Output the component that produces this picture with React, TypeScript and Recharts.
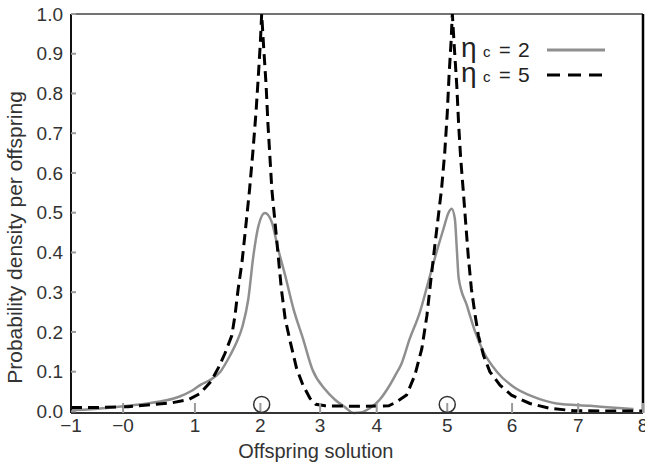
import React from 'react';
import { LineChart, Line, XAxis, YAxis, ReferenceLine, ReferenceDot, Legend } from 'recharts';

// eta_c values of the two series
const etaValues = [2, 5];

// eta_c = 2 (solid grey)
const solidX = [-1, -0.75, -0.5, -0.25, 0, 0.25, 0.5, 0.7, 0.9, 1.05, 1.2, 1.35, 1.5, 1.6, 1.7, 1.79, 1.87, 1.95, 2.05, 2.16, 2.26, 2.37, 2.5, 2.65, 2.8, 3.0, 3.15, 3.3, 3.45, 3.55, 3.7, 3.86, 4.0, 4.1, 4.2, 4.33, 4.49, 4.62, 4.75, 4.86, 4.94, 4.99, 5.04, 5.07, 5.1, 5.23, 5.36, 5.49, 5.7, 5.96, 6.27, 6.64, 7.17, 7.5, 7.85];
const solidY = [0.003, 0.005, 0.008, 0.012, 0.016, 0.021, 0.028, 0.037, 0.052, 0.068, 0.08, 0.1, 0.14, 0.172, 0.215, 0.283, 0.392, 0.467, 0.499, 0.476, 0.408, 0.342, 0.258, 0.183, 0.105, 0.055, 0.03, 0.012, -0.004, -0.003, 0.008, 0.03, 0.062, 0.09, 0.12, 0.183, 0.25, 0.325, 0.4, 0.459, 0.5, 0.51, 0.484, 0.41, 0.335, 0.266, 0.2, 0.15, 0.1, 0.062, 0.037, 0.02, 0.014, 0.01, 0.006];

// eta_c = 5 (dashed black)
const dashX = [-1, -0.5, -0.1, 0.25, 0.6, 0.85, 1.03, 1.2, 1.32, 1.42, 1.53, 1.58, 1.63, 1.69, 1.74, 1.81, 1.86, 1.91, 1.95, 1.98, 2.0, 2.03, 2.07, 2.1, 2.13, 2.16, 2.21, 2.26, 2.31, 2.37, 2.45, 2.55, 2.65, 2.76, 2.85, 3.0, 3.5, 4.0, 4.12, 4.28, 4.41, 4.52, 4.6, 4.67, 4.73, 4.78, 4.83, 4.88, 4.92, 4.95, 4.98, 5.0, 5.03, 5.07, 5.1, 5.13, 5.17, 5.21, 5.25, 5.3, 5.36, 5.41, 5.49, 5.59, 5.75, 5.93, 6.22, 6.54, 6.9, 7.5, 8.0];
const dashY = [0.01, 0.01, 0.012, 0.017, 0.022, 0.03, 0.045, 0.075, 0.11, 0.145, 0.191, 0.241, 0.308, 0.375, 0.45, 0.559, 0.65, 0.75, 0.85, 0.93, 1.0, 0.92, 0.82, 0.72, 0.64, 0.559, 0.476, 0.392, 0.308, 0.233, 0.175, 0.108, 0.066, 0.033, 0.018, 0.014, 0.013, 0.014, 0.024, 0.041, 0.091, 0.158, 0.241, 0.342, 0.425, 0.492, 0.559, 0.65, 0.75, 0.85, 0.93, 1.0, 0.92, 0.82, 0.72, 0.64, 0.559, 0.475, 0.392, 0.308, 0.241, 0.191, 0.141, 0.1, 0.066, 0.041, 0.02, 0.0075, 0.002, 0.001, 0.001];

// axis ticks (as placed in the reference figure)
const xTickValues = [-1, -0.18, 0.95, 1.98, 2.92, 3.81, 4.92, 5.94, 6.98, 8];
const xTickLabels = ['\u22121', '\u22120', '1', '2', '3', '4', '5', '6', '7', '8'];
const yTickValues = [0, 0.1, 0.2, 0.3, 0.4, 0.5, 0.6, 0.7, 0.8, 0.9, 1.0];

// parent solutions marked with circles on the axis
const parentX = [2.0, 4.92];
const parentY = 0.0175;

const solidData = solidX.map((x, i) => ({ x, y: solidY[i] }));
const dashData = dashX.map((x, i) => ({ x, y: dashY[i] }));

const FONT = '"Liberation Sans", Arial, Helvetica, sans-serif';

const YLabel = (props: any) => {
  const vb = props.viewBox || { x: 0, y: 14, width: 71, height: 399 };
  const cx = vb.x + 22;
  const cy = vb.y + vb.height / 2 + 24;
  return (
    <text x={cx} y={cy} transform={`rotate(-90 ${cx} ${cy})`} textAnchor="middle" fontSize={21} fill="#333" fontFamily={FONT}>
      Probability density per offspring
    </text>
  );
};

const XLabel = (props: any) => {
  const vb = props.viewBox || { x: 71, y: 413, width: 572, height: 51 };
  const cx = vb.x + vb.width * 0.428;
  const cy = vb.y + 45;
  return (
    <text x={cx} y={cy} textAnchor="middle" fontSize={20} fill="#333" fontFamily={FONT}>
      Offspring solution
    </text>
  );
};

const legendDash = [undefined, '13 8'];

const renderLegend = (props: any) => {
  const payload = props.payload || [];
  return (
    <svg width={170} height={62} style={{ display: 'block', overflow: 'visible' }}>
      {payload.map((entry: any, i: number) => {
        const base = 27 + i * 25;
        return (
          <g key={i} fontFamily={FONT} fill="#222">
            <text x={6} y={base} fontSize={28}>η</text>
            <text x={28} y={base} fontSize={15}>c</text>
            <text x={44} y={base} fontSize={20}>=</text>
            <text x={63} y={base} fontSize={21}>{entry.value}</text>
            <line x1={92} x2={150} y1={base - 7} y2={base - 7} stroke={entry.color} strokeWidth={3} strokeDasharray={legendDash[i]} />
          </g>
        );
      })}
    </svg>
  );
};

export default function App() {
  return (
    <div style={{ position: 'absolute', left: 0, top: 0, background: '#fff' }}>
      <LineChart width={645} height={464} margin={{ top: 14, right: 2, left: 0, bottom: 0 }}>
        <XAxis
          dataKey="x"
          type="number"
          domain={[-1, 8]}
          ticks={xTickValues}
          interval={0}
          allowDuplicatedCategory={false}
          tickFormatter={(v: number) => xTickLabels[xTickValues.indexOf(v)] ?? String(v)}
          height={51}
          tickSize={-10}
          tickMargin={16}
          tickLine={{ stroke: '#9a9a9a', strokeWidth: 2 }}
          axisLine={{ stroke: '#333', strokeWidth: 2 }}
          tick={{ fontSize: 19, fill: '#333', fontFamily: FONT }}
          label={XLabel}
        />
        <YAxis
          type="number"
          domain={[0, 1]}
          ticks={yTickValues}
          interval={0}
          width={71}
          tickSize={-5}
          tickMargin={13}
          tickFormatter={(v: number) => v.toFixed(1)}
          tickLine={{ stroke: '#9a9a9a', strokeWidth: 2 }}
          axisLine={{ stroke: '#111', strokeWidth: 2 }}
          tick={{ fontSize: 19, fill: '#333', fontFamily: FONT }}
          label={YLabel}
        />
        <ReferenceLine y={1} stroke="#444" strokeWidth={1.5} />
        <ReferenceLine x={8} stroke="#000" strokeWidth={2.5} />
        {parentX.map((px) => (
          <ReferenceDot key={px} x={px} y={parentY} r={8} fill="none" stroke="#333" strokeWidth={1.5} ifOverflow="visible" />
        ))}
        <Line
          data={solidData}
          dataKey="y"
          name={String(etaValues[0])}
          type="monotone"
          stroke="#8f8f8f"
          strokeWidth={2.5}
          dot={false}
          activeDot={false}
          isAnimationActive={false}
        />
        <Line
          data={dashData}
          dataKey="y"
          name={String(etaValues[1])}
          type="linear"
          stroke="#000"
          strokeWidth={3}
          strokeDasharray="11 6"
          dot={false}
          activeDot={false}
          isAnimationActive={false}
        />
        <Legend
          layout="horizontal"
          verticalAlign="middle"
          align="center"
          wrapperStyle={{ top: 30, left: 455, width: 170, height: 62 }}
          content={renderLegend}
        />
      </LineChart>
    </div>
  );
}
